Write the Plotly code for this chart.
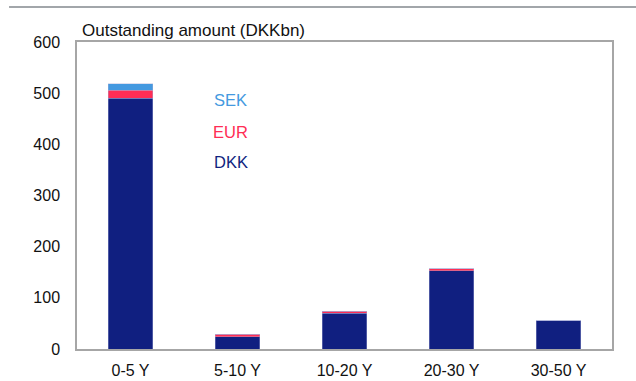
import plotly.graph_objects as go

# Maturity buckets and outstanding amounts (DKKbn) by currency
maturities = ["0-5 Y", "5-10 Y", "10-20 Y", "20-30 Y", "30-50 Y"]
dkk = [490, 24, 70, 153, 55]
eur = [16, 4.5, 4, 4, 0]
sek = [12, 0, 0, 0, 0]

series = [
    ("DKK", dkk, "#101f80"),
    ("EUR", eur, "#ff2d55"),
    ("SEK", sek, "#4499e0"),
]

FONT = "Liberation Sans, Arial"

fig = go.Figure()
for name, vals, color in series:
    fig.add_trace(go.Bar(
        x=maturities, y=vals, name=name,
        marker=dict(color=color, line=dict(color="rgba(170,175,215,0.8)", width=0.5)),
        width=0.42,
    ))

# Series labels as coloured text inside the plot
label_y = {"SEK": 0.812, "EUR": 0.707, "DKK": 0.609}
for name, vals, color in series:
    fig.add_annotation(
        x=0.287, y=label_y[name], xref="paper", yref="paper",
        text=name, showarrow=False, xanchor="center", yanchor="middle",
        font=dict(color=color, size=16.5, family=FONT),
    )

# Chart title above the plot frame
fig.add_annotation(
    x=0.005, y=1.0, xref="paper", yref="paper", yshift=0,
    text="Outstanding amount (DKKbn)", showarrow=False,
    xanchor="left", yanchor="bottom",
    font=dict(color="#111111", size=17, family=FONT),
)

# Grey rule across the top of the page
fig.add_shape(type="line", xref="paper", yref="paper",
              x0=-0.127, x1=1.05, y0=1.114, y1=1.114,
              line=dict(color="#a2a6aa", width=2))

fig.update_layout(
    barmode="stack",
    width=636, height=381,
    margin=dict(l=77, r=24, t=42, b=32),
    paper_bgcolor="white", plot_bgcolor="white",
    showlegend=False,
    font=dict(family=FONT, size=16, color="#111111"),
    xaxis=dict(showline=True, linecolor="#a6a6a6", linewidth=1.5, mirror=True,
               ticks="", tickfont=dict(size=16), ticklabelstandoff=6,
               automargin=False),
    yaxis=dict(range=[0, 600], dtick=100, showgrid=False, zeroline=False,
               showline=True, linecolor="#a6a6a6", linewidth=1.5, mirror=True,
               ticks="", tickfont=dict(size=16), ticklabelstandoff=12,
               automargin=False),
)

fig.write_html("out.html")
